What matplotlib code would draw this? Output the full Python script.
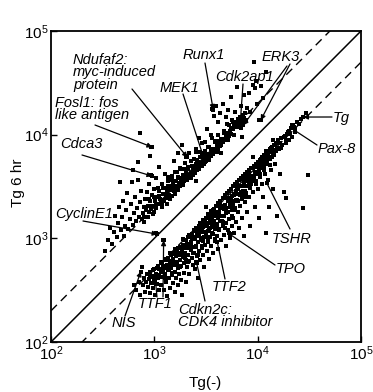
import numpy as np
import matplotlib
matplotlib.use("Agg")
import matplotlib.pyplot as plt
from matplotlib.ticker import NullLocator

plt.rcParams['font.family'] = ['Liberation Sans', 'DejaVu Sans']
plt.rcParams['mathtext.fontset'] = 'custom'
plt.rcParams['mathtext.rm'] = 'Liberation Sans'
plt.rcParams['mathtext.it'] = 'Liberation Sans:italic'

# log10 signal: Tg(-) on x, Tg 6 hr on y
# genes going up (above the diagonal)
up_ctrl = [2.52, 2.55, 2.57, 2.59, 2.61, 2.62, 2.64, 2.65, 2.66, 2.67,
           2.68, 2.69, 2.70, 2.71, 2.72, 2.73, 2.74, 2.75, 2.76, 2.77,
           2.78, 2.79, 2.79, 2.80, 2.81, 2.82, 2.83, 2.84, 2.84, 2.85,
           2.86, 2.86, 2.87, 2.88,
           2.89, 2.90, 2.90, 2.91, 2.92, 2.93, 2.93, 2.94, 2.95, 2.95,
           2.96, 2.96, 2.97, 2.97, 2.97, 2.98, 2.99, 3.00, 3.00, 3.01,
           3.02, 3.02, 3.03, 3.04, 3.05, 3.05, 3.06, 3.07, 3.07, 3.08,
           3.09, 3.10, 3.10, 3.11, 3.12, 3.12, 3.13, 3.14, 3.15, 3.15,
           3.16, 3.17, 3.17, 3.18, 3.19, 3.19, 3.20, 3.21, 3.21, 3.22,
           3.23, 3.23, 3.24, 3.25, 3.25, 3.26, 3.27, 3.27, 3.28, 3.29,
           3.30, 3.30, 3.31, 3.31, 3.32, 3.33, 3.33, 3.34, 3.35, 3.35,
           3.36, 3.37, 3.37, 3.38, 3.39, 3.39, 3.40, 3.40, 3.41, 3.42,
           3.42, 3.43, 3.43, 3.44, 3.45, 3.45, 3.46, 3.46, 3.47, 3.48,
           3.48, 3.49, 3.50, 3.50, 3.51, 3.51, 3.52, 3.53, 3.53, 3.54,
           3.55, 3.55, 3.56, 3.56, 3.57, 3.58, 3.58, 3.59, 3.60, 3.60,
           3.61, 3.62, 3.62, 3.63, 3.64, 3.64, 3.65, 3.66, 3.66, 3.67,
           3.68, 3.69, 3.69, 3.70, 3.71, 3.71, 3.72, 3.73, 3.74, 3.74,
           3.75, 3.76, 3.77, 3.78, 3.78, 3.79, 3.80, 3.80, 3.81, 3.82,
           3.83, 3.84, 3.85, 3.86, 3.87, 3.88, 3.90, 3.92, 3.93, 3.95,
           3.96, 3.97, 3.99, 4.01, 4.03, 4.05, 3.98, 4.08, 3.02, 3.40,
           3.65, 3.85, 3.32, 3.86]
up_6hr = [2.88, 2.98, 3.10, 2.95, 3.06, 3.22, 3.01, 3.15, 3.30, 3.54,
          3.08, 3.21, 3.36, 3.02, 3.12, 3.27, 3.44, 3.09, 3.19, 3.33,
          3.54, 3.13, 3.66, 3.24, 3.40, 3.17, 3.29, 3.74, 3.56, 3.21,
          3.35, 4.02, 3.46, 3.19,
          3.24, 3.30, 3.16, 3.38, 3.27, 3.21, 3.45, 3.31, 3.25, 3.52,
          3.36, 3.79, 3.88, 3.61, 3.28, 3.42, 3.31, 3.25, 3.48, 3.36,
          3.29, 3.58, 3.40, 3.33, 3.46, 3.69, 3.37, 3.30, 3.52, 3.43,
          3.36, 3.49, 3.62, 3.39, 3.45, 3.33, 3.55, 3.42, 3.50, 3.38,
          3.47, 3.60, 3.41, 3.52, 3.46, 3.75, 3.43, 3.55, 3.49, 3.64,
          3.47, 3.82, 3.53, 3.50, 3.68, 3.57, 3.52, 3.90, 3.61, 3.55,
          3.73, 3.58, 3.78, 3.62, 3.56, 3.67, 3.60, 3.82, 3.63, 3.58,
          3.70, 3.65, 3.61, 3.77, 3.68, 3.63, 3.86, 3.72, 3.66, 3.74,
          3.69, 3.97, 3.67, 3.78, 3.71, 3.73, 3.92, 3.80, 3.74, 3.76,
          3.72, 3.84, 3.78, 3.75, 4.05, 3.80, 3.77, 3.78, 3.88, 3.81,
          3.79, 4.00, 4.25, 3.84, 3.82, 4.18, 3.86, 3.84, 3.94, 4.28,
          3.89, 3.86, 4.12, 3.91, 4.21, 3.89, 3.96, 4.30, 3.93, 4.04,
          3.95, 4.17, 4.00, 3.98, 4.24, 4.02, 4.09, 4.03, 4.36, 4.06,
          4.14, 4.05, 4.10, 4.22, 4.07, 4.12, 4.46, 4.10, 4.15, 4.10,
          4.17, 4.28, 4.13, 4.19, 4.38, 4.21, 4.26, 4.40, 4.22, 4.48,
          4.70, 4.45, 4.30, 4.14, 4.47, 4.35, 4.52, 4.60, 3.05, 3.55,
          3.82, 3.98, 3.78, 4.09]

# the dense part of the upper cloud, close to the dashed line
up_core_ctrl = [2.90, 2.92, 2.94, 2.95, 2.97, 2.99, 3.00, 3.02, 3.04, 3.05,
                3.07, 3.08, 3.10, 3.11, 3.13, 3.14, 3.16, 3.17, 3.19, 3.20,
                3.22, 3.23, 3.25, 3.26, 3.28, 3.29, 3.31, 3.32, 3.34, 3.35,
                3.37, 3.38, 3.40, 3.41, 3.43, 3.44, 3.46, 3.47, 3.49, 3.50,
                3.52, 3.53, 3.55, 3.56, 3.58, 3.59, 3.61, 3.62, 3.64, 3.65,
                3.67, 3.68, 3.70, 3.71, 3.73, 3.74, 3.76, 3.77, 3.79, 3.81,
                3.83, 3.84, 3.87, 3.89,
                3.055, 3.095, 3.135, 3.175, 3.215, 3.245, 3.285, 3.325, 3.365, 3.405,
                3.445, 3.485, 3.525, 3.565, 3.605, 3.645, 3.685, 3.725, 3.765, 3.805]
up_core_6hr = [3.21, 3.30, 3.21, 3.38, 3.31, 3.23, 3.40, 3.32, 3.49, 3.41,
               3.33, 3.49, 3.43, 3.39, 3.59, 3.49, 3.41, 3.56, 3.50, 3.64,
               3.50, 3.59, 3.67, 3.56, 3.51, 3.67, 3.64, 3.79, 3.61, 3.75,
               3.69, 3.63, 3.83, 3.76, 3.72, 3.83, 3.70, 3.79, 3.93, 3.78,
               3.88, 3.76, 3.86, 3.97, 3.85, 3.93, 3.83, 4.00, 3.94, 3.90,
               4.02, 3.96, 4.10, 3.95, 4.04, 4.01, 4.12, 4.00, 4.09, 4.07,
               4.16, 4.06, 4.16, 4.14,
               3.375, 3.365, 3.505, 3.475, 3.475, 3.585, 3.575, 3.685, 3.635, 3.715,
               3.705, 3.825, 3.815, 3.815, 3.925, 3.915, 4.015, 3.985, 4.055, 4.125]

# genes going down (below the diagonal)
down_ctrl = [2.80, 2.82, 2.85, 2.86, 2.88, 2.89, 2.90, 2.91, 2.92, 2.93,
             2.94, 2.95, 2.96, 2.96, 2.97, 2.98, 2.99, 3.00, 3.00, 3.01,
             3.02, 3.03, 3.04, 3.04, 3.05, 3.06, 3.06, 3.07, 3.08, 3.08,
             3.09, 3.09, 3.10, 3.10, 3.11, 3.12, 3.12, 3.13, 3.13, 3.14,
             3.15, 3.15, 3.16, 3.16, 3.17, 3.18, 3.18, 3.19, 3.19, 3.20,
             3.20, 3.21, 3.21, 3.22, 3.22, 3.23, 3.23, 3.24, 3.24, 3.25,
             3.25, 3.26, 3.26, 3.27, 3.27, 3.28, 3.28, 3.29, 3.29, 3.30,
             3.30, 3.31, 3.31, 3.32, 3.32, 3.33, 3.33, 3.34, 3.34, 3.35,
             3.35, 3.36, 3.36, 3.37, 3.37, 3.38, 3.38, 3.39, 3.39, 3.40,
             3.40, 3.41, 3.41, 3.42, 3.42, 3.43, 3.43, 3.44, 3.44, 3.45,
             3.45, 3.46, 3.46, 3.47, 3.47, 3.48, 3.48, 3.49, 3.49, 3.50,
             3.50, 3.51, 3.51, 3.52, 3.52, 3.53, 3.53, 3.54, 3.54, 3.55,
             3.55, 3.56, 3.56, 3.57, 3.57, 3.58, 3.58, 3.59, 3.59, 3.60,
             3.60, 3.61, 3.61, 3.62, 3.62, 3.63, 3.63, 3.64, 3.64, 3.65,
             3.65, 3.66, 3.66, 3.67, 3.67, 3.68, 3.68, 3.69, 3.69, 3.70,
             3.70, 3.71, 3.71, 3.72, 3.72, 3.73, 3.73, 3.74, 3.74, 3.75,
             3.75, 3.76, 3.76, 3.77, 3.77, 3.78, 3.78, 3.79, 3.79, 3.80,
             3.80, 3.81, 3.81, 3.82, 3.82, 3.83, 3.83, 3.84, 3.84, 3.85,
             3.85, 3.86, 3.86, 3.87, 3.87, 3.88, 3.88, 3.89, 3.89, 3.90,
             3.90, 3.91, 3.92, 3.92, 3.93, 3.93, 3.94, 3.94, 3.95, 3.96,
             3.96, 3.97, 3.98, 3.98, 3.99, 4.00, 4.00, 4.01, 4.02, 4.02,
             4.03, 4.04, 4.04, 4.05, 4.06, 4.06, 4.07, 4.08, 4.08, 4.09,
             4.10, 4.10, 4.11, 4.12, 4.12, 4.13, 4.14, 4.15, 4.15, 4.16,
             4.17, 4.18, 4.18, 4.19, 4.20, 4.21, 4.22, 4.23, 4.24, 4.25,
             4.26, 4.27, 4.28, 4.30, 4.30, 4.32, 4.33, 4.34, 4.36, 4.38,
             4.40, 4.44, 4.42, 4.47, 4.49, 4.44, 4.27, 3.72, 3.40, 3.50,
             3.95, 4.15, 4.36, 3.09, 3.01, 2.87]
down_6hr = [2.55, 2.50, 2.58, 2.45, 2.72, 2.55, 2.62, 2.48, 2.58, 2.66,
            2.53, 2.61, 2.47, 2.68, 2.57, 2.64, 2.52, 2.70, 2.60, 2.45,
            2.66, 2.56, 2.73, 2.62, 2.50, 2.68, 2.55, 2.76, 2.98, 2.63,
            2.71, 2.50, 2.79, 2.66, 2.58, 2.74, 2.44, 2.81, 2.69, 2.62,
            2.77, 2.52, 2.84, 2.71, 2.65, 2.80, 2.57, 2.86, 2.74, 2.68,
            2.48, 2.83, 2.62, 2.89, 2.77, 2.71, 2.55, 2.85, 2.66, 2.92,
            2.79, 2.73, 2.60, 2.88, 2.45, 2.94, 2.82, 2.76, 2.67, 2.98,
            2.86, 2.79, 2.58, 2.93, 2.72, 3.01, 2.84, 2.78, 2.66, 2.96,
            2.89, 3.04, 2.81, 2.74, 2.92, 3.07, 2.86, 2.99, 2.70, 3.10,
            2.92, 2.83, 3.03, 2.62, 2.96, 3.12, 2.88, 3.06, 2.79, 3.15,
            2.98, 2.91, 3.09, 2.84, 3.18, 3.01, 2.72, 3.12, 2.94, 3.20,
            3.05, 2.88, 3.15, 2.98, 3.23, 3.08, 2.80, 3.18, 3.01, 3.26,
            2.93, 3.12, 3.21, 3.04, 2.86, 3.28, 3.15, 2.97, 3.09, 3.31,
            3.22, 3.02, 3.13, 3.34, 2.90, 3.25, 3.08, 3.36, 3.17, 2.98,
            3.29, 3.39, 3.12, 3.22, 3.03, 3.42, 3.32, 3.15, 2.93, 3.44,
            3.25, 3.08, 3.36, 3.46, 3.19, 3.30, 3.00, 3.48, 3.39, 3.22,
            3.12, 3.50, 3.33, 3.43, 3.05, 3.52, 3.27, 3.46, 3.16, 3.54,
            3.37, 3.48, 3.25, 3.56, 3.10, 3.42, 3.31, 3.58, 3.50, 3.38,
            3.20, 3.60, 3.46, 3.53, 3.02, 3.62, 3.35, 3.55, 3.44, 3.64,
            3.25, 3.50, 3.66, 3.40, 3.58, 3.12, 3.68, 3.52, 3.45, 3.70,
            3.60, 3.30, 3.72, 3.55, 3.64, 3.74, 3.48, 3.20, 3.76, 3.62,
            3.68, 3.78, 3.52, 3.40, 3.80, 3.70, 3.62, 3.82, 3.05, 3.74,
            3.84, 3.56, 3.30, 3.86, 3.77, 3.66, 3.88, 3.80, 3.48, 3.90,
            3.72, 3.92, 3.84, 3.22, 3.94, 3.86, 3.62, 3.97, 3.90, 3.45,
            3.99, 3.92, 4.01, 3.95, 4.04, 4.06, 3.98, 4.09, 4.05, 4.12,
            4.10, 4.17, 4.15, 4.21, 3.61, 3.29, 3.39, 3.05, 2.77, 3.30,
            3.78, 3.95, 4.03, 2.98, 2.60, 2.68]

# the dense part of the lower cloud
down_core_ctrl = [2.96, 2.98, 2.99, 3.01, 3.02, 3.03, 3.05, 3.06, 3.07, 3.08,
                  3.10, 3.11, 3.12, 3.13, 3.14, 3.15, 3.16, 3.17, 3.18, 3.19,
                  3.20, 3.21, 3.22, 3.23, 3.24, 3.25, 3.26, 3.27, 3.28, 3.29,
                  3.30, 3.31, 3.32, 3.33, 3.34, 3.35, 3.36, 3.37, 3.38, 3.39,
                  3.40, 3.41, 3.42, 3.43, 3.44, 3.45, 3.46, 3.47, 3.48, 3.49,
                  3.50, 3.51, 3.52, 3.53, 3.54, 3.55, 3.56, 3.57, 3.58, 3.59,
                  3.60, 3.61, 3.62, 3.63, 3.64, 3.65, 3.66, 3.67, 3.68, 3.69,
                  3.70, 3.71, 3.72, 3.73, 3.74, 3.75, 3.76, 3.77, 3.78, 3.79,
                  3.80, 3.81, 3.82, 3.83, 3.84, 3.85, 3.86, 3.87, 3.88, 3.89,
                  3.90, 3.91, 3.92, 3.93, 3.94, 3.95, 3.96, 3.97, 3.98, 3.99,
                  4.00, 4.01, 4.02, 4.03, 4.04, 4.05, 4.06, 4.07, 4.08, 4.09,
                  4.10, 4.11, 4.12, 4.13, 4.14, 4.16, 4.17, 4.19, 4.20, 4.22,
                  4.23, 4.25, 4.27, 4.29, 4.31, 4.33, 4.35,
                  3.255, 3.275, 3.295, 3.315, 3.335, 3.355, 3.375, 3.395, 3.415, 3.435,
                  3.455, 3.475, 3.495, 3.515, 3.535, 3.555, 3.575, 3.595, 3.615, 3.635,
                  3.655, 3.675, 3.695, 3.715, 3.735, 3.755, 3.775, 3.795, 3.815, 3.835,
                  3.855, 3.875, 3.895, 3.915, 3.935, 3.955, 3.975, 3.995, 4.015, 4.035,
                  4.055, 4.075, 4.095, 4.115, 4.135, 4.155, 3.205, 3.165, 3.125, 3.085,
                  3.045]
down_core_6hr = [2.63, 2.57, 2.69, 2.64, 2.56, 2.71, 2.65, 2.77, 2.63, 2.73,
                 2.62, 2.80, 2.73, 2.79, 2.69, 2.86, 2.78, 2.67, 2.85, 2.77,
                 2.90, 2.84, 2.75, 2.91, 2.84, 2.72, 2.91, 2.84, 2.99, 2.91,
                 2.81, 2.98, 2.91, 2.77, 3.03, 2.91, 3.00, 2.86, 3.08, 2.99,
                 2.93, 3.07, 2.84, 3.05, 3.15, 3.00, 2.93, 3.11, 3.06, 3.18,
                 3.01, 3.12, 2.96, 3.20, 3.10, 3.18, 3.05, 3.27, 3.17, 2.99,
                 3.25, 3.14, 3.23, 3.09, 3.32, 3.22, 3.16, 3.31, 3.10, 3.29,
                 3.39, 3.25, 3.19, 3.35, 3.30, 3.41, 3.20, 3.36, 3.29, 3.43,
                 3.49, 3.36, 3.43, 3.31, 3.50, 3.42, 3.57, 3.40, 3.50, 3.56,
                 3.40, 3.50, 3.62, 3.49, 3.58, 3.68, 3.56, 3.64, 3.52, 3.70,
                 3.62, 3.70, 3.59, 3.77, 3.69, 3.76, 3.66, 3.75, 3.84, 3.72,
                 3.82, 3.78, 3.71, 3.87, 3.83, 3.80, 3.90, 3.87, 3.95, 3.92,
                 3.87, 3.98, 3.95, 4.03, 4.01, 4.09, 4.07,
                 2.855, 2.935, 2.845, 2.945, 3.025, 2.935, 3.015, 2.915, 3.085, 3.025,
                 3.085, 2.975, 3.145, 3.075, 3.145, 3.235, 3.105, 3.225, 3.195, 3.295,
                 3.165, 3.285, 3.245, 3.385, 3.325, 3.275, 3.415, 3.365, 3.505, 3.445,
                 3.505, 3.455, 3.595, 3.545, 3.605, 3.555, 3.625, 3.685, 3.645, 3.715,
                 3.705, 3.785, 3.765, 3.845, 3.785, 3.855, 2.845, 2.745, 2.795, 2.695,
                 2.705]

# labelled genes (arrow targets)
gene_names = ['Ndufaf2', 'Fosl1', 'Cdca3', 'MEK1', 'Runx1', 'Cdk2ap1', 'ERK3', 'ERK3',
              'Tg', 'Pax-8', 'TSHR', 'TPO', 'TTF2', 'Cdkn2c', 'TTF1', 'TTF1', 'NIS', 'CyclinE1']
gene_ctrl = [3.32, 2.98, 2.98, 3.49, 3.57, 3.83, 4.03, 3.86,
             4.44, 4.36, 4.09, 3.73, 3.61, 3.41, 3.09, 3.01, 2.87, 3.03]
gene_6hr = [3.78, 3.88, 3.60, 3.74, 4.24, 4.09, 4.14, 4.09,
            4.17, 4.04, 3.53, 3.04, 2.96, 2.76, 2.98, 2.60, 2.68, 3.04]

W, H = 373, 392
AX_L, AX_T, AX_R, AX_B = 51, 31, 361, 342


def frac(px, py):
    # pixel position in the picture -> axes fraction
    return (px - AX_L) / (AX_R - AX_L), (AX_B - py) / (AX_B - AX_T)


fig = plt.figure(figsize=(W / 100, H / 100), dpi=100)
ax = fig.add_axes([AX_L / W, (H - AX_B) / H, (AX_R - AX_L) / W, (AX_B - AX_T) / H])

ax.set_xscale('log')
ax.set_yscale('log')
ax.set_xlim(1e2, 1e5)
ax.set_ylim(1e2, 1e5)

diag = np.array([1e2, 1e5])
ax.plot(diag, diag, color='k', lw=1.1)
ax.plot(diag, diag * 2, color='k', lw=1.0, dashes=(6, 4))
ax.plot(diag, diag / 2, color='k', lw=1.0, dashes=(6, 4))

series = [(up_ctrl, up_6hr), (up_core_ctrl, up_core_6hr),
          (down_ctrl, down_6hr), (down_core_ctrl, down_core_6hr),
          (gene_ctrl, gene_6hr)]
for xs, ys in series:
    ax.scatter(10 ** np.array(xs), 10 ** np.array(ys), s=6, marker='s',
               c='k', linewidths=0, zorder=3)

ax.set_xticks([1e2, 1e3, 1e4, 1e5])
ax.set_yticks([1e2, 1e3, 1e4, 1e5])
ax.xaxis.set_minor_locator(NullLocator())
ax.yaxis.set_minor_locator(NullLocator())
ax.tick_params(direction='in', length=4, width=1, labelsize=11, pad=2)
for sp in ax.spines.values():
    sp.set_linewidth(1.3)

fig.text(18 / W, 1 - 183 / H, 'Tg 6 hr', rotation=90, ha='center', va='center', fontsize=11)
fig.text(205 / W, 1 - 383 / H, 'Tg(-)', ha='center', va='center', fontsize=11)

labels = [
    ('Ndufaf2:\nmyc-induced\nprotein', 73, 53),
    ('Fosl1: fos\nlike antigen', 55, 96),
    ('Cdca3', 60, 137),
    ('MEK1', 160, 81),
    ('Runx1', 183, 48),
    ('Cdk2ap1', 215, 70),
    ('ERK3', 262, 50),
    ('Tg', 333, 111),
    ('Pax-8', 318, 142),
    ('TSHR', 272, 232),
    ('TPO', 276, 262),
    ('TTF2', 212, 280),
    ('Cdkn2c:\nCDK4 inhibitor', 178, 303),
    ('TTF1', 138, 297),
    ('NIS', 112, 316),
    ('CyclinE1', 55, 207),
]
for txt, lx, ty in labels:
    ax.text(*frac(lx, ty), txt, transform=ax.transAxes, ha='left', va='top',
            fontsize=10.5, style='italic', linespacing=0.85)

# arrow start (pixels) and whether it has a head, one per gene entry
starts = [(132, 89, True), (95, 125, True), (82, 155, True), (183, 94, True),
          (205, 63, True), (243, 84, True), (290, 64, True), (287, 66, True),
          (332, 117, True), (317, 145, False), (290, 229, False), (275, 265, False),
          (225, 279, False), (205, 301, False), (163, 297, True), (157, 297, False),
          (125, 316, True), (83, 221, True)]
for i, (sx, sy, head) in enumerate(starts):
    ax.annotate('', xy=(10 ** gene_ctrl[i], 10 ** gene_6hr[i]), xycoords='data',
                xytext=frac(sx, sy), textcoords='axes fraction',
                arrowprops=dict(arrowstyle='-|>' if head else '-', color='k', lw=0.9,
                                mutation_scale=7, shrinkA=0, shrinkB=0))

fig.savefig('out.png', dpi=100)
